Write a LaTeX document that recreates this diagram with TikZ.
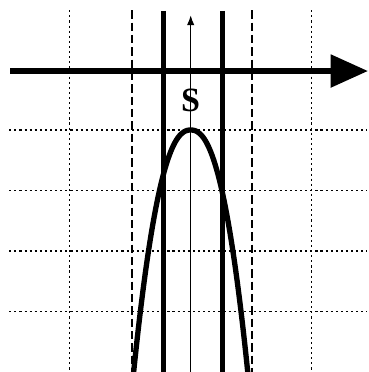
\documentclass[tikz,border=0pt]{standalone}
\usepackage{fontspec}
\setmainfont{Liberation Serif}
\usetikzlibrary{arrows.meta, positioning}

\begin{document}
\begin{tikzpicture}[line cap=butt,
        gridline/.style={line width=0.5pt, dash pattern=on 1pt off 1.4pt},
        bound/.style={line width=0.7pt, dash pattern=on 4pt off 1.8pt},
        wall/.style={line width=2.3pt},
        axisline/.style={line width=2.6pt, -{Triangle[length=17.5pt, width=15pt]}},
        curve/.style={line width=2.5pt},
        label/.style={font=\fontsize{16}{18}\selectfont\bfseries}]
        \useasboundingbox (-3.152,-4.0) rectangle (2.947,2.149);

        % grid
        \foreach \y in {0,-1,-2,-3}
            \draw [gridline] (-3,\y) -- (2.92,\y);
        \foreach \x in {-2,2}
            \draw [gridline] (\x,1.98) -- (\x,-4);

        % dashed bounds and walls
        \draw [bound] (-0.97,1.98) -- (-0.97,-4);
        \draw [bound] (1.01,1.98) -- (1.01,-4);
        \draw [wall] (-0.453,1.97) -- (-0.453,-4);
        \draw [wall] (0.529,1.97) -- (0.529,-4);

        % curve
        \draw [curve] plot[domain=-0.96:0.96, samples=80, smooth] (\x, {-4.58*abs(\x)^2.3});

        % axes
        \coordinate (xstart) at (-2.98,0.975);
        \coordinate (xend) at (2.93,0.975);
        \draw [axisline] (xstart) -- (xend);
        \coordinate (ystart) at (0,-4);
        \coordinate (yend) at (0,1.9);
        \draw [line width=0.7pt, -{Latex[length=4.7pt, width=3.5pt]}] (ystart) -- (yend);

        \node [label] (s) at (0,0.49) {S};
    \end{tikzpicture}
\end{document}
